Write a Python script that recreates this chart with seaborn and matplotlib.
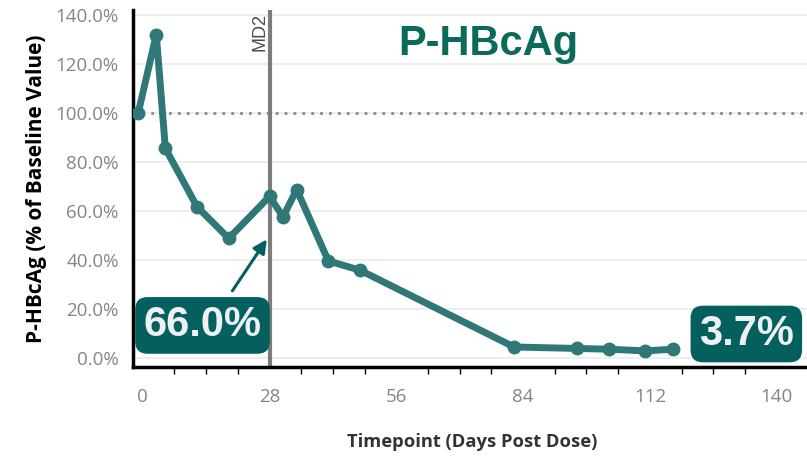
import matplotlib
matplotlib.use("Agg")
import matplotlib.pyplot as plt
import seaborn as sns
import pandas as pd
from matplotlib.ticker import FuncFormatter, MultipleLocator

# data
days = [-1, 3, 5, 12, 19, 28, 31, 34, 41, 48, 82, 96, 103, 111, 117]
pct_baseline = [100.0, 132.0, 85.6, 61.8, 48.9, 66.0, 57.7, 68.8, 39.7, 35.9,
                4.6, 4.0, 3.7, 3.0, 3.7]
x_ticks = [0, 28, 56, 84, 112, 140]
y_ticks = [0, 20, 40, 60, 80, 100, 120, 140]
md2_day = 28
callouts = ["66.0%", "3.7%"]

df = pd.DataFrame({"day": days, "pct": pct_baseline})

sns.set_theme(style="white")
plt.rcParams["font.family"] = ["Open Sans", "DejaVu Sans"]

line_col = "#2f7877"
box_col = "#03605f"

fig = plt.figure(figsize=(8.07, 4.58), dpi=100)
ax = fig.add_axes([0.1645, 0.199, 0.84, 0.779])

for yv in y_ticks:
    ax.axhline(yv, color="#ebebeb", lw=1.2, zorder=0)
ax.axhline(100, color="#8a8a8a", lw=2, ls=(0, (1, 2.2)), zorder=1)
ax.axvline(md2_day, color="#7d7d7d", lw=3, zorder=2)

sns.lineplot(data=df, x="day", y="pct", ax=ax, color=line_col, lw=5,
             marker="o", markersize=10, markeredgewidth=0, zorder=3)

ax.set_xlim(-2.2, 147.5)
ax.set_ylim(-3.5, 142)
ax.set_xticks(x_ticks)
ax.xaxis.set_minor_locator(MultipleLocator(7))
ax.set_yticks(y_ticks)
ax.yaxis.set_major_formatter(FuncFormatter(lambda v, p: f"{v:.1f}%"))

for s in ["top", "right"]:
    ax.spines[s].set_visible(False)
for s in ["left", "bottom"]:
    ax.spines[s].set_color("black")
    ax.spines[s].set_linewidth(2.5)

ax.tick_params(axis="both", which="both", direction="out", color="black",
               labelcolor="#858585", labelsize=13.5)
ax.tick_params(axis="y", length=7, width=1.3, pad=3)
ax.tick_params(axis="x", which="major", length=7, width=1.3, pad=8)
ax.tick_params(axis="x", which="minor", length=5, width=1.0, bottom=True)

ax.set_xlabel("Timepoint (Days Post Dose)", fontsize=13.2, fontweight="bold",
              color="#333333", labelpad=20)
ax.set_ylabel("P-HBcAg (% of Baseline Value)", fontsize=15, fontweight="bold",
              color="black", labelpad=6)

ax.text(25.9, 141, "MD2", rotation=90, ha="center", va="top", fontsize=13,
        color="#4a4a4a", family=["Liberation Sans"])

fig.text(0.605, 0.905, "P-HBcAg", ha="center", va="center", fontsize=30,
         fontweight="bold", color="#0c6a5a", family=["Liberation Sans"])

box = dict(boxstyle="round,pad=0.2,rounding_size=0.3", fc=box_col, ec="none")
ax.annotate("", xy=(md2_day - 0.6, 48.5), xytext=(19.8, 27.5),
            arrowprops=dict(arrowstyle="-|>", color=box_col, lw=2.2,
                            mutation_scale=20, shrinkA=0, shrinkB=0),
            zorder=4)
ax.text(13.2, 13.4, callouts[0], ha="center", va="center", fontsize=30,
        fontweight="bold", color="#eef0f3", family=["Liberation Sans"],
        bbox=box, zorder=5)
ax.text(133.3, 9.9, callouts[1], ha="center", va="center", fontsize=30,
        fontweight="bold", color="#eef0f3", family=["Liberation Sans"],
        bbox=box, zorder=5)

fig.savefig("out.png", dpi=100)
